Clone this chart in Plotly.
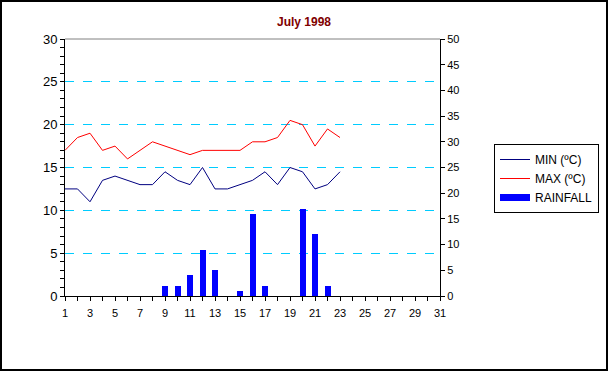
import plotly.graph_objects as go

days = list(range(1, 32))
min_days = list(range(1, 24))
min_temp = [12.5, 12.5, 11, 13.5, 14, 13.5, 13, 13, 14.5, 13.5, 13, 15, 12.5, 12.5, 13, 13.5,
            14.5, 13, 15, 14.5, 12.5, 13, 14.5]
max_temp = [17, 18.5, 19, 17, 17.5, 16, 17, 18, 17.5, 17, 16.5, 17, 17, 17, 17, 18,
            18, 18.5, 20.5, 20, 17.5, 19.5, 18.5]
rain_days = [9, 10, 11, 12, 13, 15, 16, 17, 20, 21, 22]
rainfall = [2, 2, 4, 9, 5, 1, 16, 2, 17, 12, 2]

FONT = "Liberation Sans, Arial, sans-serif"

fig = go.Figure()
fig.add_trace(go.Bar(x=rain_days, y=rainfall, name="RAINFALL", yaxis="y2", showlegend=False,
                     marker=dict(color="#0000FF", line=dict(width=0)), width=0.48))
fig.add_trace(go.Scatter(x=min_days, y=min_temp, name="MIN (ºC)", mode="lines", legendrank=1,
                         line=dict(color="#000080", width=1)))
fig.add_trace(go.Scatter(x=min_days, y=max_temp, name="MAX (ºC)", mode="lines", legendrank=2,
                         line=dict(color="#FF0000", width=1)))
# legend entry for rainfall (wide blue bar symbol)
fig.add_trace(go.Scatter(x=[None], y=[None], name="RAINFALL", mode="lines", legendrank=3,
                         line=dict(color="#0000FF", width=7)))

# plot area: x 65..440, y 39..296
L, R, T, B = 65, 440, 39, 296
W, H = 608, 371
pw, ph = R - L, B - T

def px_x(p):
    return (p - L) / pw

def px_y(p):
    return (B - p) / ph

fig.update_layout(
    width=W, height=H,
    margin=dict(l=L, r=W - R, t=T, b=H - B, pad=0, autoexpand=False),
    paper_bgcolor="white", plot_bgcolor="white",
    title=dict(text="<b>July 1998</b>", x=px_x(304), xref="paper", xanchor="center",
               y=1 - 22 / H, yanchor="middle",
               font=dict(family=FONT, size=12, color="#800000")),
    showlegend=True,
    legend=dict(x=px_x(494), y=px_y(144), xanchor="left", yanchor="top",
                bordercolor="black", borderwidth=1, bgcolor="white",
                font=dict(family=FONT, size=12, color="black"),
                traceorder="normal", itemwidth=30, tracegroupgap=0),
    bargap=0,
    xaxis=dict(range=[1, 31], tick0=1, dtick=2, ticks="outside", ticklen=4, tickwidth=1,
               tickcolor="black", showline=True, linecolor="black", linewidth=1, automargin=False,
               showgrid=False, zeroline=False, ticklabelstandoff=3,
               tickfont=dict(family=FONT, size=11, color="black"),
               minor=dict(dtick=1, tick0=1, ticks="outside", ticklen=4, tickcolor="black", showgrid=False)),
    yaxis=dict(range=[0, 30], dtick=5, ticks="outside", ticklen=4, tickwidth=1, tickcolor="black",
               showline=True, linecolor="black", linewidth=1, showgrid=True, automargin=False,
               gridcolor="#00CCFF", griddash="dash", gridwidth=1, zeroline=False,
               tickfont=dict(family=FONT, size=13, color="black"),
               minor=dict(dtick=1, ticks="outside", ticklen=4, tickcolor="black", showgrid=False)),
    yaxis2=dict(range=[0, 50], dtick=5, overlaying="y", side="right", anchor="x",
                ticks="outside", ticklen=4, tickcolor="black", showline=True, linecolor="black",
                linewidth=1, showgrid=False, zeroline=False, automargin=False,
                tickfont=dict(family=FONT, size=11, color="black")),
    # inside tick overlays to make crossing ticks
    xaxis2=dict(range=[1, 31], overlaying="x", anchor="y", side="bottom", dtick=1, tick0=1,
                ticks="inside", ticklen=4, tickcolor="black", showticklabels=False, automargin=False,
                showgrid=False, zeroline=False, showline=False),
    yaxis3=dict(range=[0, 30], overlaying="y", anchor="x", side="left", dtick=1,
                ticks="inside", ticklen=4, tickcolor="black", showticklabels=False, automargin=False,
                showgrid=False, zeroline=False, showline=False),
    yaxis4=dict(range=[0, 50], overlaying="y", anchor="x", side="right", dtick=5,
                ticks="inside", ticklen=4, tickcolor="black", showticklabels=False, automargin=False,
                showgrid=False, zeroline=False, showline=False),
    shapes=[
        dict(type="line", xref="paper", yref="paper", x0=0, x1=1, y0=1, y1=1,
             line=dict(color="#808080", width=1), layer="above"),
        dict(type="rect", xref="paper", yref="paper",
             x0=px_x(1), x1=px_x(W - 1), y0=px_y(H - 1), y1=px_y(1),
             line=dict(color="black", width=2), layer="above"),
    ],
)

fig.write_html("out.html", config={"displayModeBar": False},
               post_script=("document.body.style.margin='0';document.body.style.padding='0';"))
